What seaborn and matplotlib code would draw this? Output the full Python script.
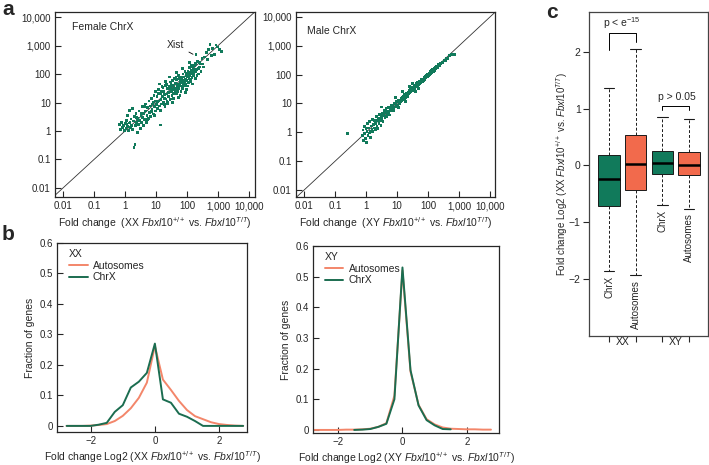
import numpy as np
import pandas as pd
import matplotlib
matplotlib.use("Agg")
import matplotlib.pyplot as plt
from matplotlib.ticker import NullLocator
import seaborn as sns

# --- datos ---
# panel a: log10 de los fold change (eje x, eje y) por gen del ChrX
female_x_log = [-0.18, -0.15, -0.12, -0.08, -0.05, -0.03, 0.01, 0.03, 0.05, 0.07, 0.09, 0.11, 0.13, 0.15, 0.17, 0.19,
                0.21, 0.23, 0.25, 0.27, 0.29, 0.30, 0.32, 0.33, 0.35, 0.37, 0.39, 0.41, 0.43, 0.45, 0.47, 0.49,
                0.51, 0.53, 0.55, 0.57, 0.59, 0.61, 0.63, 0.65, 0.67, 0.69, 0.71, 0.73, 0.75, 0.77, 0.79,
                0.81, 0.83, 0.85, 0.87, 0.89, 0.91, 0.93, 0.95, 0.97, 0.99, 0.98,
                1.01, 1.03, 1.05, 1.07, 1.09, 1.11, 1.13, 1.14, 1.16, 1.18, 1.19, 1.12,
                1.21, 1.23, 1.25, 1.27, 1.29, 1.31, 1.33, 1.35, 1.37, 1.39, 1.30, 1.36,
                1.41, 1.43, 1.45, 1.47, 1.49, 1.51, 1.53, 1.55, 1.57, 1.59, 1.44, 1.52,
                1.61, 1.63, 1.65, 1.67, 1.69, 1.71, 1.73, 1.75, 1.77, 1.79, 1.66, 1.72,
                1.81, 1.83, 1.85, 1.87, 1.89, 1.91, 1.93, 1.95, 1.97, 1.99, 1.86, 1.94,
                2.01, 2.03, 2.05, 2.07, 2.09, 2.11, 2.13, 2.15, 2.17, 2.19, 2.08,
                2.21, 2.24, 2.27, 2.29, 2.31, 2.34, 2.37, 2.39,
                2.42, 2.45, 2.48, 2.50, 2.53, 2.56, 2.62, 2.66, 2.70, 2.74, 2.78,
                2.83, 2.88, 2.93, 2.98, 3.05, 3.10,
                1.04, 1.08, 1.15, 1.17, 1.22, 1.26, 1.28, 1.32, 1.34, 1.38, 1.42, 1.46, 1.48, 1.50, 1.54,
                1.56, 1.58, 1.62, 1.64, 1.68, 1.70, 1.74, 1.76, 1.78, 1.80, 1.82, 1.84, 1.88, 1.90, 1.92,
                1.96, 1.98, 2.00, 2.02, 2.04, 2.06, 2.10, 2.12, 2.14, 2.16, 2.18, 2.20, 2.22, 2.26, 2.28,
                2.32, 2.36, 2.40, 0.62, 0.72, 0.84, 0.92, 0.96, 0.54, 0.44, 0.36, 0.16, 0.06]
female_y_log = [0.22, 0.05, 0.30, 0.12, 0.18, 0.02, 0.25, 0.08, 0.38, 0.15, 0.55, 0.02, 0.28, 0.72, 0.12, 0.42,
                0.20, 0.78, 0.05, 0.35, -0.58, 0.52, -0.47, 0.18, 0.62, 0.30, -0.05, 0.45, 0.22, 0.70, 0.38, 0.10,
                0.55, 0.30, 0.85, 0.48, 0.20, 0.62, 0.40, 0.95, 0.70, 0.30, 0.55, 0.82, 0.45, 1.05, 0.65,
                0.88, 0.50, 1.15, 0.75, 0.95, 0.60, 1.25, 0.85, 1.05, 0.70, 1.40,
                0.92, 1.20, 0.78, 1.45, 1.05, 0.88, 0.21, 1.30, 1.10, 0.95, 1.55, 1.65,
                1.22, 1.00, 1.40, 1.15, 0.85, 1.60, 1.30, 1.05, 1.48, 1.20, 1.75, 0.95,
                1.35, 1.55, 1.10, 1.72, 1.40, 1.25, 1.60, 1.45, 1.15, 1.85, 1.90, 1.00,
                1.50, 1.68, 1.30, 1.80, 1.55, 1.40, 1.95, 1.62, 1.25, 1.75, 2.05, 1.18,
                1.70, 1.88, 1.50, 2.00, 1.75, 1.60, 2.10, 1.82, 1.45, 1.95, 2.20, 1.35,
                1.90, 2.08, 1.70, 2.22, 1.95, 1.80, 2.30, 2.00, 1.65, 2.15, 2.40,
                2.05, 2.30, 1.85, 2.70, 2.15, 2.45, 2.00, 2.25,
                2.35, 2.10, 2.55, 2.35, 2.25, 2.60, 2.75, 2.50, 2.85, 3.05, 2.65,
                2.90, 2.70, 3.02, 2.95, 2.85, 2.80,
                1.02, 1.32, 0.72, 1.38, 1.52, 0.92, 1.28, 1.12, 1.62, 1.02, 1.22, 1.48, 1.62, 1.12, 1.78,
                1.32, 1.52, 1.38, 1.88, 1.45, 1.65, 1.48, 1.85, 1.58, 1.38, 1.58, 1.78, 1.62, 1.90, 1.72,
                1.62, 2.02, 1.78, 1.58, 1.98, 1.85, 2.05, 1.72, 2.12, 1.88, 2.25, 1.95, 2.18, 2.08, 2.38,
                1.95, 2.20, 2.40, 0.85, 0.40, 0.68, 1.02, 0.55, 0.62, 0.35, 0.48, 0.30, 0.22]

male_x_log = [-0.61, -0.12, -0.10, -0.08, -0.06, -0.04, -0.02, 0.00, 0.01, 0.03, 0.05, 0.06, 0.08, 0.10, 0.12,
              0.13, 0.15, 0.17, 0.19, 0.21, 0.22, 0.24, 0.26, 0.28, 0.30, 0.31, 0.33, 0.35, 0.37, 0.38, 0.40,
              0.42, 0.44, 0.46, 0.48, 0.49, 0.51, 0.53, 0.55, 0.57, 0.59, 0.61, 0.62, 0.64, 0.66, 0.68, 0.70,
              0.72, 0.74, 0.76, 0.78, 0.79, 0.81, 0.83, 0.85, 0.87, 0.89, 0.91, 0.93, 0.95, 0.97, 0.99, 1.01,
              1.03, 1.05, 1.07, 1.09, 1.11, 1.13, 1.15, 1.17, 1.19, 1.21, 1.23, 1.25, 1.27, 1.29, 1.31, 1.33,
              1.35, 1.37, 1.39, 1.41, 1.43, 1.45, 1.47, 1.49, 1.51, 1.53, 1.55, 1.57, 1.59, 1.61, 1.63, 1.65,
              1.67, 1.69, 1.71, 1.73, 1.75, 1.77, 1.79, 1.81, 1.83, 1.85, 1.87, 1.89, 1.91, 1.93, 1.95, 1.97,
              1.99, 2.01, 2.03, 2.05, 2.07, 2.09, 2.11, 2.13, 2.15, 2.17, 2.19, 2.21, 2.23, 2.25, 2.27, 2.30,
              2.33, 2.36, 2.39, 2.42, 2.45, 2.48, 2.52, 2.56, 2.60, 2.64, 2.68, 2.75, 2.85,
              1.18, 1.28, 1.05, 0.95, 1.40, 1.60, 1.50, 1.70, 0.89, 0.51]
male_y_log = [-0.05, -0.10, 0.08, -0.28, 0.20, -0.05, -0.20, 0.12, -0.35, 0.02, 0.30, -0.12, 0.15, -0.02, 0.38,
              0.05, -0.18, 0.22, 0.10, 0.45, 0.02, 0.28, 0.15, 0.40, 0.08, 0.32, 0.55, 0.22, 0.42, 0.12, 0.50,
              0.30, 0.62, 0.40, 0.25, 0.55, 0.45, 0.65, 0.38, 0.58, 0.75, 0.50, 0.68, 0.82, 0.55, 0.72, 0.62,
              0.85, 0.70, 0.60, 0.88, 0.75, 0.80, 0.92, 0.75, 0.95, 0.85, 1.02, 0.88, 0.98, 0.90, 1.08, 0.95,
              1.05, 1.12, 0.98, 1.10, 1.05, 1.18, 1.10, 1.22, 1.15, 1.25, 1.18, 1.30, 1.22, 1.35, 1.28, 1.25,
              1.40, 1.33, 1.45, 1.38, 1.48, 1.42, 1.52, 1.45, 1.55, 1.48, 1.60, 1.52, 1.63, 1.58, 1.68, 1.60,
              1.72, 1.65, 1.75, 1.68, 1.78, 1.72, 1.82, 1.76, 1.85, 1.80, 1.90, 1.84, 1.93, 1.88, 1.97, 1.92,
              2.02, 1.96, 2.05, 2.00, 2.10, 2.03, 2.13, 2.08, 2.18, 2.10, 2.22, 2.15, 2.25, 2.20, 2.30, 2.24,
              2.34, 2.30, 2.40, 2.38, 2.44, 2.42, 2.50, 2.48, 2.58, 2.56, 2.66, 2.70, 2.70,
              1.42, 1.08, 0.85, 1.20, 1.60, 1.42, 1.70, 1.52, 0.77, 0.88]

# panel b: fraccion de genes por bin de log2 fold change
xx_auto_x = [-2.75, -2.5, -2.25, -2.0, -1.75, -1.5, -1.25, -1.0, -0.75, -0.5, -0.25, 0.0,
             0.25, 0.5, 0.75, 1.0, 1.25, 1.5, 1.75, 2.0, 2.25, 2.5, 2.75]
xx_auto_y = [0.0, 0.0, 0.0, 0.001, 0.003, 0.006, 0.016, 0.033, 0.058, 0.092, 0.142, 0.262,
             0.152, 0.118, 0.082, 0.052, 0.032, 0.022, 0.012, 0.006, 0.003, 0.001, 0.0]
xx_chrx_x = [-2.75, -2.5, -2.25, -2.0, -1.75, -1.5, -1.25, -1.0, -0.75, -0.5, -0.25, 0.0,
             0.25, 0.5, 0.75, 1.0, 1.25, 1.5, 1.75, 2.0, 2.25, 2.5, 2.75]
xx_chrx_y = [0.0, 0.0, 0.0, 0.0, 0.004, 0.010, 0.046, 0.068, 0.126, 0.145, 0.174, 0.270,
             0.087, 0.076, 0.040, 0.030, 0.016, 0.0, 0.0, 0.0, 0.0, 0.0, 0.0]
xy_auto_x = [-2.75, -2.5, -2.25, -2.0, -1.75, -1.5, -1.25, -1.0, -0.75, -0.5, -0.25, 0.0,
             0.25, 0.5, 0.75, 1.0, 1.25, 1.5, 1.75, 2.0, 2.25, 2.5, 2.75]
xy_auto_y = [0.0, 0.0, 0.0, 0.0, 0.001, 0.001, 0.002, 0.004, 0.010, 0.022, 0.112, 0.520,
             0.190, 0.082, 0.035, 0.018, 0.008, 0.004, 0.003, 0.002, 0.002, 0.001, 0.001]
xy_chrx_x = [-1.5, -1.25, -1.0, -0.75, -0.5, -0.25, 0.0, 0.25, 0.5, 0.75, 1.0, 1.25, 1.5]
xy_chrx_y = [0.0, 0.001, 0.003, 0.010, 0.020, 0.100, 0.530, 0.195, 0.080, 0.032, 0.015, 0.003, 0.002]

# panel c: min, Q1, mediana, Q3, max
box_groups = ['XX ChrX', 'XX Autosomes', 'XY ChrX', 'XY Autosomes']
box_names = ['ChrX', 'Autosomes', 'ChrX', 'Autosomes']
box_stats = [[-1.86, -0.72, -0.23, 0.19, 1.37],
             [-1.93, -0.44, 0.02, 0.54, 2.05],
             [-0.70, -0.15, 0.04, 0.25, 0.86],
             [-0.76, -0.17, 0.00, 0.23, 0.81]]

GREEN = '#117a5b'
ORANGE = '#f26a4c'
LINE_OR = '#f3866a'
LINE_GR = '#1b6d50'

sns.set_style("ticks")
plt.rcParams['font.family'] = ['Liberation Sans', 'DejaVu Sans']
plt.rcParams['mathtext.fontset'] = 'custom'
plt.rcParams['mathtext.rm'] = 'Liberation Sans'
plt.rcParams['mathtext.it'] = 'Liberation Sans:italic'
plt.rcParams['mathtext.bf'] = 'Liberation Sans:bold'
plt.rcParams['axes.linewidth'] = 0.9

W, H = 709, 465
fig = plt.figure(figsize=(W / 100, H / 100), dpi=100)


def rect(x0, y0, x1, y1):
    return [x0 / W, 1 - y1 / H, (x1 - x0) / W, (y1 - y0) / H]


def fc_label(geno):
    return ("Fold change  (" + geno + r" $\mathit{Fbxl10}^{+/+}$ vs. "
            r"$\mathit{Fbxl10}^{\mathit{T/T}}$)")


def log2_label(geno):
    return ("Fold change Log2 (" + geno + r" $\mathit{Fbxl10}^{+/+}$ vs. "
            r"$\mathit{Fbxl10}^{\mathit{T/T}}$)")


# --- panel a ---
dec_ticks = [0.01, 0.1, 1, 10, 100, 1000, 10000]
dec_labels = ['0.01', '0.1', '1', '10', '100', '1,000', '10,000']


def scatter_panel(ax, lx, ly, title, geno, xlim, ylim, tx, ty):
    df = pd.DataFrame({'x': 10 ** np.array(lx), 'y': 10 ** np.array(ly)})
    ax.set_xscale('log')
    ax.set_yscale('log')
    ax.plot([1e-4, 1e6], [1e-4, 1e6], color='#333333', lw=0.6, zorder=1)
    sns.scatterplot(data=df, x='x', y='y', ax=ax, s=4, marker='s', color=GREEN,
                    edgecolor='none', zorder=2)
    ax.set_xlim(10 ** xlim[0], 10 ** xlim[1])
    ax.set_ylim(10 ** ylim[0], 10 ** ylim[1])
    ax.set_xticks(dec_ticks, dec_labels)
    ax.set_yticks(dec_ticks, dec_labels)
    ax.xaxis.set_minor_locator(NullLocator())
    ax.yaxis.set_minor_locator(NullLocator())
    ax.tick_params(direction='in', length=4, width=0.8, labelsize=7, pad=3)
    ax.set_xlabel(fc_label(geno), fontsize=7.5, labelpad=3)
    ax.set_ylabel('')
    ax.text(tx, ty, title, transform=ax.transAxes, fontsize=7.5, va='center')


ax_a1 = fig.add_axes(rect(55, 12, 255, 197))
scatter_panel(ax_a1, female_x_log, female_y_log, 'Female ChrX', 'XX',
              (-2.26, 4.19), (-2.32, 4.18), 0.085, 0.92)
ax_a1.annotate('Xist', xy=(170, 470), xytext=(82, 1050), fontsize=7.5,
               ha='right', va='center',
               arrowprops=dict(arrowstyle='-', lw=0.6, color='black', shrinkA=1, shrinkB=1))

ax_a2 = fig.add_axes(rect(296, 12, 495, 197))
scatter_panel(ax_a2, male_x_log, male_y_log, 'Male ChrX', 'XY',
              (-2.26, 4.16), (-2.24, 4.17), 0.055, 0.9)


# --- panel b ---
def density_panel(ax, ax_x, ax_y, cx_x, cx_y, geno, xlim, ylim):
    df = pd.concat([
        pd.DataFrame({'log2fc': ax_x, 'frac': ax_y, 'set': 'Autosomes'}),
        pd.DataFrame({'log2fc': cx_x, 'frac': cx_y, 'set': 'ChrX'}),
    ], ignore_index=True)
    sns.lineplot(data=df, x='log2fc', y='frac', hue='set', ax=ax,
                 palette={'Autosomes': LINE_OR, 'ChrX': LINE_GR}, lw=1.4,
                 estimator=None, sort=False)
    ax.set_xlim(*xlim)
    ax.set_ylim(*ylim)
    ax.set_xticks([-2, 0, 2], ['\u22122', '0', '2'])
    ax.set_yticks([0, 0.1, 0.2, 0.3, 0.4, 0.5, 0.6],
                  ['0', '0.1', '0.2', '0.3', '0.4', '0.5', '0.6'])
    ax.tick_params(direction='in', length=4, width=0.8, labelsize=7, pad=3)
    ax.set_xlabel(log2_label(geno), fontsize=7.5, labelpad=2)
    ax.set_ylabel('Fraction of genes', fontsize=7.5, labelpad=3)
    ax.legend(title=geno, frameon=False, loc='upper left', bbox_to_anchor=(0.04, 0.99),
              borderaxespad=0, fontsize=7.5, title_fontsize=7.5, handlelength=1.8,
              handletextpad=0.5, labelspacing=0.15, alignment='left')


ax_b1 = fig.add_axes(rect(57, 243, 247, 432))
density_panel(ax_b1, xx_auto_x, xx_auto_y, xx_chrx_x, xx_chrx_y, 'XX', (-3.05, 2.87), (-0.02, 0.6))

ax_b2 = fig.add_axes(rect(313, 246, 499, 433))
density_panel(ax_b2, xy_auto_x, xy_auto_y, xy_chrx_x, xy_chrx_y, 'XY', (-2.78, 3.0), (-0.01, 0.6))

# --- panel c ---
ax_c = fig.add_axes(rect(589, 12, 708, 336))
box_df = pd.DataFrame({'group': np.repeat(box_groups, 5),
                       'value': np.concatenate(box_stats)})
sns.boxplot(data=box_df, x='group', y='value', hue='group', order=box_groups,
            hue_order=box_groups, palette=[GREEN, ORANGE, GREEN, ORANGE], saturation=1,
            whis=(0, 100), width=0.8, linecolor='#1a1a1a', linewidth=0.7, fliersize=0,
            legend=False, ax=ax_c,
            medianprops=dict(color='black', linewidth=1.8),
            whiskerprops=dict(linestyle=(0, (3, 2)), linewidth=0.7),
            capprops=dict(linewidth=0.8))
ax_c.set_xlim(-0.75, 3.71)
ax_c.set_ylim(-3.0, 2.7)
ax_c.set_yticks([-2, -1, 0, 1, 2], ['\u22122', '\u22121', '0', '1', '2'])
ax_c.set_xticks([0, 1, 2, 3], ['', '', '', ''])
ax_c.set_xticks([0.5, 2.5], ['XX', 'XY'], minor=True)
ax_c.tick_params(axis='both', which='major', direction='out', length=4, width=0.8, labelsize=7.5, pad=2)
ax_c.tick_params(axis='x', which='minor', length=0, labelsize=7.5, pad=1)
ax_c.set_xlabel('')
ax_c.set_ylabel(log2_label('XX'), fontsize=7)
ax_c.yaxis.set_label_coords(-0.16, 0.5)
for sp in ax_c.spines.values():
    sp.set_color('#444444')

for i, (name, st) in enumerate(zip(box_names, box_stats)):
    ax_c.text(i, st[0] - 0.08, name, rotation=90, ha='center', va='top', fontsize=7)

ax_c.plot([0, 0, 1, 1], [2.04, 2.33, 2.33, 2.18], color='black', lw=0.7)
ax_c.text(0.49, 2.5, r'p < e$^{-15}$', ha='center', va='center', fontsize=7.5)
ax_c.plot([2, 2, 3, 3], [0.98, 1.05, 1.05, 0.98], color='black', lw=0.7)
ax_c.text(2.55, 1.21, 'p > 0.05', ha='center', va='center', fontsize=7.5)

# letras de panel
fig.text(2 / W, 1 - 15 / H, 'a', fontsize=15, fontweight='bold', va='baseline')
fig.text(2 / W, 1 - 240 / H, 'b', fontsize=15, fontweight='bold', va='baseline')
fig.text(546 / W, 1 - 18 / H, 'c', fontsize=15, fontweight='bold', va='baseline')

fig.savefig('out.png', dpi=100)
